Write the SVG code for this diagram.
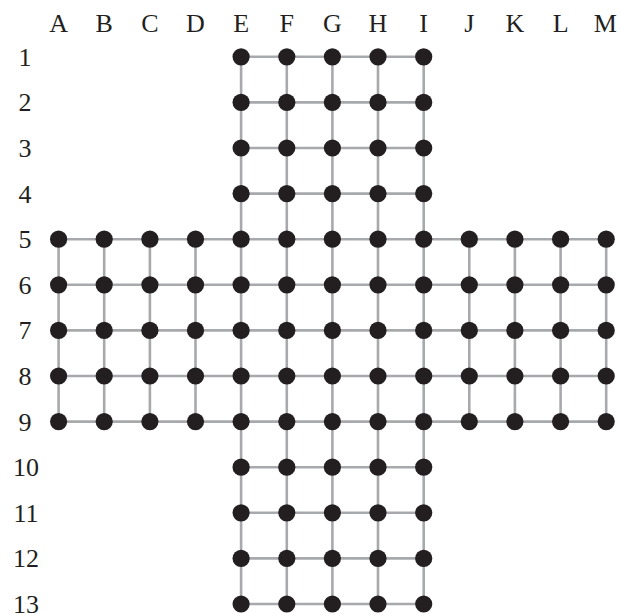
<svg xmlns="http://www.w3.org/2000/svg" width="621" height="614" viewBox="0 0 621 614">
<style>
.lbl{font-family:"Liberation Serif","Times New Roman",serif;font-size:26px;fill:#231f20;text-anchor:middle}
.ln{stroke:#a7a9ac;stroke-width:2.6;fill:none}
.dot{fill:#231f20}
</style>
<defs><circle id="d" r="8.6" class="dot"/></defs>
<rect width="621" height="614" fill="#fff"/>
<g id="col-labels">
<text class="lbl" x="58.6" y="32">A</text><text class="lbl" x="104.2" y="32">B</text><text class="lbl" x="149.9" y="32">C</text><text class="lbl" x="195.5" y="32">D</text><text class="lbl" x="241.1" y="32">E</text><text class="lbl" x="286.8" y="32">F</text><text class="lbl" x="332.4" y="32">G</text><text class="lbl" x="378.0" y="32">H</text><text class="lbl" x="423.7" y="32">I</text><text class="lbl" x="469.3" y="32">J</text><text class="lbl" x="514.9" y="32">K</text><text class="lbl" x="560.6" y="32">L</text><text class="lbl" x="605.2" y="32">M</text>
</g>
<g id="row-labels">
<text class="lbl" x="25" y="65.8">1</text><text class="lbl" x="25" y="111.4">2</text><text class="lbl" x="25" y="157">3</text><text class="lbl" x="25" y="202.6">4</text><text class="lbl" x="25" y="248.2">5</text><text class="lbl" x="25" y="293.8">6</text><text class="lbl" x="25" y="339.4">7</text><text class="lbl" x="25" y="385">8</text><text class="lbl" x="25" y="430.6">9</text><text class="lbl" x="26" y="476.2">10</text><text class="lbl" x="26" y="521.8">11</text><text class="lbl" x="26" y="567.4">12</text><text class="lbl" x="26" y="613">13</text>
</g>
<g id="connectors" class="ln">
<path d="M241.1 56.8H423.7M241.1 102.4H423.7M241.1 148H423.7M241.1 193.6H423.7M58.6 239.2H606.2M58.6 284.8H606.2M58.6 330.4H606.2M58.6 376H606.2M58.6 421.6H606.2M241.1 467.2H423.7M241.1 512.8H423.7M241.1 558.4H423.7M241.1 604H423.7"/>
<path d="M58.6 239.2V421.6M104.2 239.2V421.6M149.9 239.2V421.6M195.5 239.2V421.6M241.1 56.8V604M286.8 56.8V604M332.4 56.8V604M378 56.8V604M423.7 56.8V604M469.3 239.2V421.6M514.9 239.2V421.6M560.6 239.2V421.6M606.2 239.2V421.6"/>
</g>
<g id="nodes">
<g id="E1"><use href="#d" x="241.1" y="56.8"/></g><g id="F1"><use href="#d" x="286.8" y="56.8"/></g><g id="G1"><use href="#d" x="332.4" y="56.8"/></g><g id="H1"><use href="#d" x="378" y="56.8"/></g><g id="I1"><use href="#d" x="423.7" y="56.8"/></g>
<g id="E2"><use href="#d" x="241.1" y="102.4"/></g><g id="F2"><use href="#d" x="286.8" y="102.4"/></g><g id="G2"><use href="#d" x="332.4" y="102.4"/></g><g id="H2"><use href="#d" x="378" y="102.4"/></g><g id="I2"><use href="#d" x="423.7" y="102.4"/></g>
<g id="E3"><use href="#d" x="241.1" y="148"/></g><g id="F3"><use href="#d" x="286.8" y="148"/></g><g id="G3"><use href="#d" x="332.4" y="148"/></g><g id="H3"><use href="#d" x="378" y="148"/></g><g id="I3"><use href="#d" x="423.7" y="148"/></g>
<g id="E4"><use href="#d" x="241.1" y="193.6"/></g><g id="F4"><use href="#d" x="286.8" y="193.6"/></g><g id="G4"><use href="#d" x="332.4" y="193.6"/></g><g id="H4"><use href="#d" x="378" y="193.6"/></g><g id="I4"><use href="#d" x="423.7" y="193.6"/></g>
<g id="A5"><use href="#d" x="58.6" y="239.2"/></g><g id="B5"><use href="#d" x="104.2" y="239.2"/></g><g id="C5"><use href="#d" x="149.9" y="239.2"/></g><g id="D5"><use href="#d" x="195.5" y="239.2"/></g><g id="E5"><use href="#d" x="241.1" y="239.2"/></g><g id="F5"><use href="#d" x="286.8" y="239.2"/></g><g id="G5"><use href="#d" x="332.4" y="239.2"/></g><g id="H5"><use href="#d" x="378" y="239.2"/></g><g id="I5"><use href="#d" x="423.7" y="239.2"/></g><g id="J5"><use href="#d" x="469.3" y="239.2"/></g><g id="K5"><use href="#d" x="514.9" y="239.2"/></g><g id="L5"><use href="#d" x="560.6" y="239.2"/></g><g id="M5"><use href="#d" x="606.2" y="239.2"/></g>
<g id="A6"><use href="#d" x="58.6" y="284.8"/></g><g id="B6"><use href="#d" x="104.2" y="284.8"/></g><g id="C6"><use href="#d" x="149.9" y="284.8"/></g><g id="D6"><use href="#d" x="195.5" y="284.8"/></g><g id="E6"><use href="#d" x="241.1" y="284.8"/></g><g id="F6"><use href="#d" x="286.8" y="284.8"/></g><g id="G6"><use href="#d" x="332.4" y="284.8"/></g><g id="H6"><use href="#d" x="378" y="284.8"/></g><g id="I6"><use href="#d" x="423.7" y="284.8"/></g><g id="J6"><use href="#d" x="469.3" y="284.8"/></g><g id="K6"><use href="#d" x="514.9" y="284.8"/></g><g id="L6"><use href="#d" x="560.6" y="284.8"/></g><g id="M6"><use href="#d" x="606.2" y="284.8"/></g>
<g id="A7"><use href="#d" x="58.6" y="330.4"/></g><g id="B7"><use href="#d" x="104.2" y="330.4"/></g><g id="C7"><use href="#d" x="149.9" y="330.4"/></g><g id="D7"><use href="#d" x="195.5" y="330.4"/></g><g id="E7"><use href="#d" x="241.1" y="330.4"/></g><g id="F7"><use href="#d" x="286.8" y="330.4"/></g><g id="G7"><use href="#d" x="332.4" y="330.4"/></g><g id="H7"><use href="#d" x="378" y="330.4"/></g><g id="I7"><use href="#d" x="423.7" y="330.4"/></g><g id="J7"><use href="#d" x="469.3" y="330.4"/></g><g id="K7"><use href="#d" x="514.9" y="330.4"/></g><g id="L7"><use href="#d" x="560.6" y="330.4"/></g><g id="M7"><use href="#d" x="606.2" y="330.4"/></g>
<g id="A8"><use href="#d" x="58.6" y="376"/></g><g id="B8"><use href="#d" x="104.2" y="376"/></g><g id="C8"><use href="#d" x="149.9" y="376"/></g><g id="D8"><use href="#d" x="195.5" y="376"/></g><g id="E8"><use href="#d" x="241.1" y="376"/></g><g id="F8"><use href="#d" x="286.8" y="376"/></g><g id="G8"><use href="#d" x="332.4" y="376"/></g><g id="H8"><use href="#d" x="378" y="376"/></g><g id="I8"><use href="#d" x="423.7" y="376"/></g><g id="J8"><use href="#d" x="469.3" y="376"/></g><g id="K8"><use href="#d" x="514.9" y="376"/></g><g id="L8"><use href="#d" x="560.6" y="376"/></g><g id="M8"><use href="#d" x="606.2" y="376"/></g>
<g id="A9"><use href="#d" x="58.6" y="421.6"/></g><g id="B9"><use href="#d" x="104.2" y="421.6"/></g><g id="C9"><use href="#d" x="149.9" y="421.6"/></g><g id="D9"><use href="#d" x="195.5" y="421.6"/></g><g id="E9"><use href="#d" x="241.1" y="421.6"/></g><g id="F9"><use href="#d" x="286.8" y="421.6"/></g><g id="G9"><use href="#d" x="332.4" y="421.6"/></g><g id="H9"><use href="#d" x="378" y="421.6"/></g><g id="I9"><use href="#d" x="423.7" y="421.6"/></g><g id="J9"><use href="#d" x="469.3" y="421.6"/></g><g id="K9"><use href="#d" x="514.9" y="421.6"/></g><g id="L9"><use href="#d" x="560.6" y="421.6"/></g><g id="M9"><use href="#d" x="606.2" y="421.6"/></g>
<g id="E10"><use href="#d" x="241.1" y="467.2"/></g><g id="F10"><use href="#d" x="286.8" y="467.2"/></g><g id="G10"><use href="#d" x="332.4" y="467.2"/></g><g id="H10"><use href="#d" x="378" y="467.2"/></g><g id="I10"><use href="#d" x="423.7" y="467.2"/></g>
<g id="E11"><use href="#d" x="241.1" y="512.8"/></g><g id="F11"><use href="#d" x="286.8" y="512.8"/></g><g id="G11"><use href="#d" x="332.4" y="512.8"/></g><g id="H11"><use href="#d" x="378" y="512.8"/></g><g id="I11"><use href="#d" x="423.7" y="512.8"/></g>
<g id="E12"><use href="#d" x="241.1" y="558.4"/></g><g id="F12"><use href="#d" x="286.8" y="558.4"/></g><g id="G12"><use href="#d" x="332.4" y="558.4"/></g><g id="H12"><use href="#d" x="378" y="558.4"/></g><g id="I12"><use href="#d" x="423.7" y="558.4"/></g>
<g id="E13"><use href="#d" x="241.1" y="604"/></g><g id="F13"><use href="#d" x="286.8" y="604"/></g><g id="G13"><use href="#d" x="332.4" y="604"/></g><g id="H13"><use href="#d" x="378" y="604"/></g><g id="I13"><use href="#d" x="423.7" y="604"/></g>
</g>
</svg>
